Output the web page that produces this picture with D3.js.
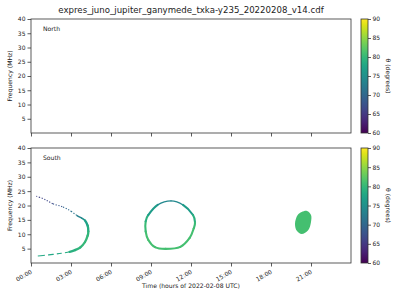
<!DOCTYPE html>
<html>
<head>
<meta charset="utf-8">
<script src="https://cdn.jsdelivr.net/npm/d3@7"></script>
<style>
  body { margin: 0; background: #fff; }
  svg { font-family: "DejaVu Sans", sans-serif; }
</style>
</head>
<body>
<svg id="chart" width="400" height="300"></svg>
<script>
// data
const title = 'expres_juno_jupiter_ganymede_txka-y235_20220208_v14.cdf';
const panelNames = ['North', 'South'];
const xTickHours = [0, 3, 6, 9, 12, 15, 18, 21];
const xTickLabels = ['00:00', '03:00', '06:00', '09:00', '12:00', '15:00', '18:00', '21:00'];
const yTicks = [5, 10, 15, 20, 25, 30, 35, 40];
const cbarTicks = [60, 65, 70, 75, 80, 85, 90];

// South: first arc (hours, MHz, theta deg)
const arcTime  = [0.4, 1.0, 1.65, 2.4, 3.0, 3.45, 3.8, 4.05, 4.25, 4.3, 4.25, 4.05, 3.7, 3.3, 2.9, 2.3, 1.65, 0.9, 0.4];
const arcFreq  = [23.2, 22.2, 20.6, 19.5, 18.0, 16.5, 15.6, 14.8, 13.0, 11.0, 9.5, 7.3, 5.4, 4.5, 3.9, 3.4, 3.0, 2.6, 2.4];
const arcTheta = [66, 66, 67, 69, 71, 72, 74, 76, 78, 79, 80, 80, 80, 79, 79, 78, 78, 78, 78];

// South: closed ring
const ringTime  = [10.5, 11.4, 12.15, 12.3, 12.2, 11.9, 11.2, 10.1, 9.3, 8.8, 8.6, 8.6, 8.8, 9.5];
const ringFreq  = [21.6, 20.2, 16.7, 14.0, 12.0, 8.7, 5.6, 4.9, 5.5, 8.0, 11.0, 14.5, 16.7, 20.2];
const ringTheta = [73, 75, 78, 80, 81, 81, 81, 81, 81, 81, 81, 80, 78, 75];

// South: filled blob near 20-21 h
const blobTime = [20.7, 21.0, 21.0, 20.8, 20.3, 19.95, 19.8, 20.0, 20.3];
const blobFreq = [18.1, 16.7, 14.3, 11.5, 10.1, 11.1, 13.6, 16.7, 17.7];
const blobTheta = 81;

const svg = d3.select('#chart');
const left = 31, right = 351;
const panels = [{top: 19, bottom: 133}, {top: 148, bottom: 263}];
const cbX = 361, cbW = 7;
const ink = '#222';

const x = d3.scaleLinear().domain([0, 24]).range([left, right]);
const color = d3.scaleSequential(d3.interpolateViridis).domain([60, 90]);

// one smooth piece of a Catmull-Rom curve between pts[i] and pts[i+1]
function piece(pts, i, closed) {
    const n = pts.length;
    const at = k => closed ? pts[(k + n) % n] : pts[Math.max(0, Math.min(n - 1, k))];
    const p0 = at(i - 1), p1 = at(i), p2 = at(i + 1), p3 = at(i + 2);
    const c1 = [p1[0] + (p2[0] - p0[0]) / 6, p1[1] + (p2[1] - p0[1]) / 6];
    const c2 = [p2[0] - (p3[0] - p1[0]) / 6, p2[1] - (p3[1] - p1[1]) / 6];
    return `M${p1}C${c1} ${c2} ${p2}`;
}

svg.append('text')
    .attr('x', (left + right) / 2).attr('y', 13)
    .attr('text-anchor', 'middle')
    .attr('font-size', 8.6).attr('fill', ink)
    .text(title);

const defs = svg.append('defs');
const grad = defs.append('linearGradient')
    .attr('id', 'viridis').attr('x1', 0).attr('y1', 1).attr('x2', 0).attr('y2', 0);
d3.range(0, 1.0001, 0.05).forEach(t => {
    grad.append('stop').attr('offset', t).attr('stop-color', d3.interpolateViridis(t));
});

panels.forEach((p, pi) => {
    const y = d3.scaleLinear().domain([0, 40]).range([p.bottom, p.top]);
    const g = svg.append('g');

    const clipId = 'clip' + pi;
    defs.append('clipPath').attr('id', clipId)
        .append('rect').attr('x', left).attr('y', p.top)
        .attr('width', right - left).attr('height', p.bottom - p.top);
    const plot = g.append('g').attr('clip-path', `url(#${clipId})`);

    if (pi === 1) {
        // arc
        const arcPts = arcTime.map((t, i) => [x(t), y(arcFreq[i])]);
        for (let i = 0; i < arcPts.length - 1; i++) {
            const fm = (arcFreq[i] + arcFreq[i + 1]) / 2;
            const seg = plot.append('path')
                .attr('d', piece(arcPts, i, false))
                .attr('fill', 'none')
                .attr('stroke', color((arcTheta[i] + arcTheta[i + 1]) / 2));
            if (fm > 17) {
                seg.attr('stroke-width', 1.1).attr('stroke-dasharray', '1.2 1.6');
            } else if (fm < 3.7) {
                seg.attr('stroke-width', 1.1).attr('stroke-dasharray', '5 3');
            } else {
                seg.attr('stroke-width', fm < 14 ? 2.3 : 1.5).attr('stroke-linecap', 'round');
            }
        }

        // ring
        const ringPts = ringTime.map((t, i) => [x(t), y(ringFreq[i])]);
        ringPts.forEach((pt, i) => {
            const j = (i + 1) % ringPts.length;
            const fm = (ringFreq[i] + ringFreq[j]) / 2;
            plot.append('path')
                .attr('d', piece(ringPts, i, true))
                .attr('fill', 'none')
                .attr('stroke', color((ringTheta[i] + ringTheta[j]) / 2))
                .attr('stroke-width', fm > 19 ? 1.3 : 2.1)
                .attr('stroke-linecap', 'round');
        });

        // blob
        const blobPts = blobTime.map((t, i) => [x(t), y(blobFreq[i])]);
        plot.append('path')
            .attr('d', d3.line().curve(d3.curveCatmullRomClosed)(blobPts))
            .attr('fill', color(blobTheta));
    }

    // frame
    g.append('rect')
        .attr('x', left).attr('y', p.top)
        .attr('width', right - left).attr('height', p.bottom - p.top)
        .attr('fill', 'none').attr('stroke', '#333').attr('stroke-width', 0.8);

    // y axis
    const yAxis = g.append('g')
        .attr('transform', `translate(${left},0)`)
        .call(d3.axisLeft(y).tickValues(yTicks).tickSize(3.5).tickPadding(2));
    yAxis.select('.domain').remove();
    yAxis.selectAll('line').attr('stroke', '#333').attr('stroke-width', 0.8);
    yAxis.selectAll('text').attr('font-size', 6).attr('font-family', 'DejaVu Sans').attr('fill', ink);

    g.append('text')
        .attr('transform', `translate(12,${(p.top + p.bottom) / 2}) rotate(-90)`)
        .attr('text-anchor', 'middle')
        .attr('font-size', 6.1).attr('fill', ink)
        .text('Frequency (MHz)');

    g.append('text')
        .attr('x', 43).attr('y', p.top + 12)
        .attr('font-size', 6.1).attr('fill', ink)
        .text(panelNames[pi]);

    // x axis
    const xAxis = g.append('g')
        .attr('transform', `translate(0,${p.bottom})`)
        .call(d3.axisBottom(x).tickValues(xTickHours).tickSize(3.5)
            .tickFormat((d, i) => pi === 1 ? xTickLabels[i] : ''));
    xAxis.select('.domain').remove();
    xAxis.selectAll('line').attr('stroke', '#333').attr('stroke-width', 0.8);
    xAxis.selectAll('text')
        .attr('font-size', 6).attr('font-family', 'DejaVu Sans').attr('fill', ink)
        .attr('text-anchor', 'end')
        .attr('dy', null).attr('y', 0)
        .attr('transform', 'translate(1,10) rotate(-30)');

    // colorbar
    const cy = d3.scaleLinear().domain([60, 90]).range([p.bottom, p.top]);
    g.append('rect')
        .attr('x', cbX).attr('y', p.top)
        .attr('width', cbW).attr('height', p.bottom - p.top)
        .attr('fill', 'url(#viridis)')
        .attr('stroke', '#333').attr('stroke-width', 0.8);
    const cAxis = g.append('g')
        .attr('transform', `translate(${cbX + cbW},0)`)
        .call(d3.axisRight(cy).tickValues(cbarTicks).tickSize(3).tickPadding(1.5));
    cAxis.select('.domain').remove();
    cAxis.selectAll('line').attr('stroke', '#333').attr('stroke-width', 0.8);
    cAxis.selectAll('text').attr('font-size', 6).attr('font-family', 'DejaVu Sans').attr('fill', ink);

    g.append('text')
        .attr('transform', `translate(386,${(p.top + p.bottom) / 2}) rotate(90)`)
        .attr('text-anchor', 'middle')
        .attr('font-size', 6.1).attr('fill', ink)
        .text('θ (degrees)');
});

svg.append('text')
    .attr('x', (left + right) / 2).attr('y', 288)
    .attr('text-anchor', 'middle')
    .attr('font-size', 6.1).attr('fill', ink)
    .text('Time (hours of 2022-02-08 UTC)');
</script>
</body>
</html>
